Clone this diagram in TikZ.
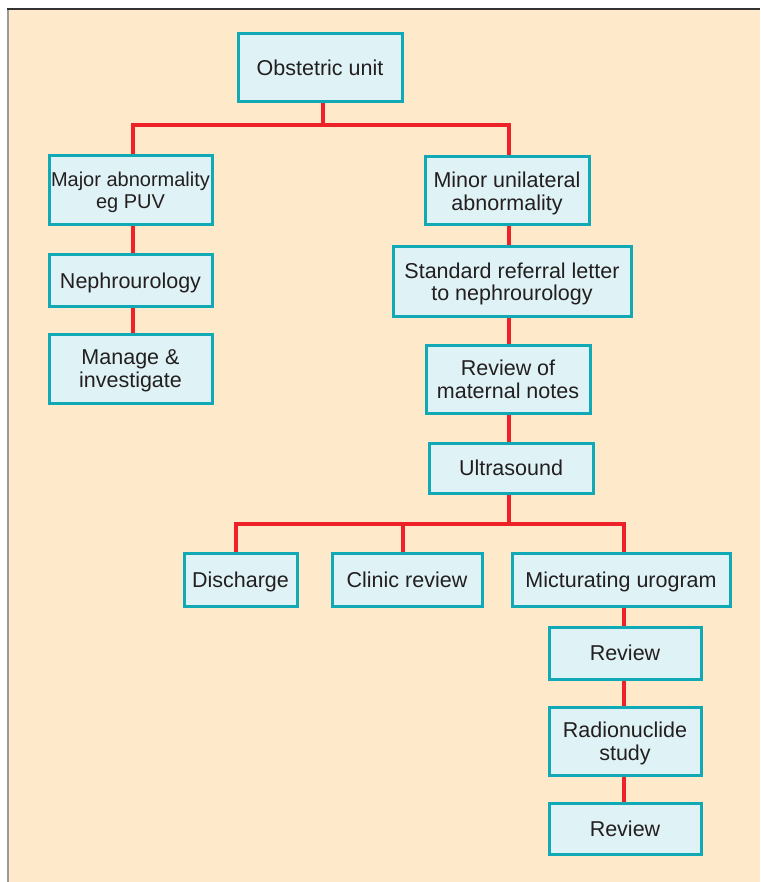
\documentclass[tikz,border=0pt]{standalone}
\usepackage{fontspec}
\setmainfont{Liberation Sans}
\usetikzlibrary{backgrounds}
\definecolor{bgbeige}{HTML}{FEEACB}
\definecolor{boxfill}{HTML}{DFF2F5}
\definecolor{boxline}{HTML}{12A9B6}
\definecolor{conred}{HTML}{EE2229}
\definecolor{txt}{HTML}{231F20}
\tikzset{
  box/.style={draw=boxline, fill=boxfill, line width=3pt, inner sep=0pt,
    align=center, text=txt, text depth=0pt, font=\fontsize{21.5}{22.5}\selectfont},
  con/.style={draw=conred, line width=3.5pt}
}
\begin{document}
\begin{tikzpicture}[x=1pt,y=-1pt]
\useasboundingbox (0,0) rectangle (760,882);
% nodes
\node[box, minimum width=164pt, minimum height=68pt] (obst) at (320,68) {Obstetric unit};
\node[box, minimum width=163pt, minimum height=69pt, font=\fontsize{20}{22.5}\selectfont] (major) at (130.5,190.5) {Major abnormality\\eg PUV};
\node[box, minimum width=163pt, minimum height=51pt] (nephro) at (130.5,280.5) {Nephrourology};
\node[box, minimum width=163pt, minimum height=69pt] (manage) at (130.5,368.5) {Manage \&\\investigate};
\node[box, minimum width=164pt, minimum height=68pt] (minor) at (507,191) {Minor unilateral\\abnormality};
\node[box, minimum width=238pt, minimum height=69pt] (standard) at (512,281.5) {Standard referral letter\\to nephrourology};
\node[box, minimum width=164pt, minimum height=68pt] (maternal) at (508,379) {Review of\\maternal notes};
\node[box, minimum width=164pt, minimum height=50pt] (ultra) at (511,468) {Ultrasound};
\node[box, minimum width=113pt, minimum height=53pt] (discharge) at (240.5,579.5) {Discharge};
\node[box, minimum width=150pt, minimum height=53pt] (clinic) at (407,579.5) {Clinic review};
\node[box, minimum width=218pt, minimum height=53pt] (mict) at (621,579.5) {Micturating urogram};
\node[box, minimum width=152pt, minimum height=52pt] (rev1) at (625,653) {Review};
\node[box, minimum width=152pt, minimum height=68pt] (radio) at (625,741) {Radionuclide\\study};
\node[box, minimum width=152pt, minimum height=51pt] (rev2) at (625,828.5) {Review};
% junctions
\coordinate (jT) at (323,125);
\coordinate (jL) at (133,125);
\coordinate (jR) at (509,125);
\coordinate (kT) at (509,524);
\coordinate (kL) at (236,524);
\coordinate (kM) at (403,524);
\coordinate (kR) at (624,524);
\begin{pgfonlayer}{background}
\fill[white] (0,0) rectangle (760,882);
\fill[bgbeige] (8,9) rectangle (760,882);
\draw[line width=2pt, draw=gray!80] (8,882) -- (8,9);
\draw[line width=1.6pt, draw=black!80] (7,9) -- (760,9);
\draw[con] (obst.south -| jT) -- (jT);
\draw[con] (major.north -| jL) -- (jL) -- (jR) -- (minor.north -| jR);
\draw[con] (major.south -| jL) -- (nephro.north -| jL);
\draw[con] (nephro.south -| jL) -- (manage.north -| jL);
\draw[con] (minor.south -| jR) -- (standard.north -| jR);
\draw[con] (standard.south -| jR) -- (maternal.north -| jR);
\draw[con] (maternal.south -| jR) -- (ultra.north -| jR);
\draw[con] (ultra.south -| kT) -- (kT);
\draw[con] (discharge.north -| kL) -- (kL) -- (kR) -- (mict.north -| kR);
\draw[con] (kM) -- (clinic.north -| kM);
\draw[con] (mict.south -| kR) -- (rev1.north -| kR);
\draw[con] (rev1.south -| kR) -- (radio.north -| kR);
\draw[con] (radio.south -| kR) -- (rev2.north -| kR);
\end{pgfonlayer}
\end{tikzpicture}
\end{document}
